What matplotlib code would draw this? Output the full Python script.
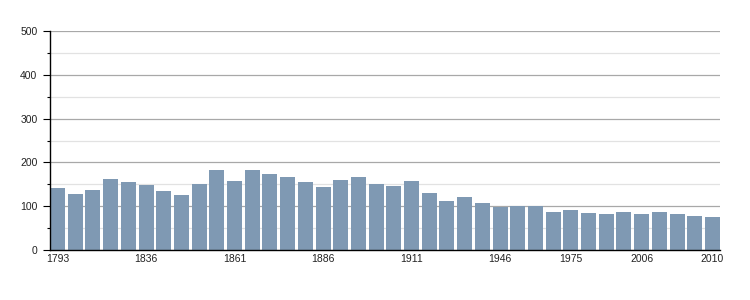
"""Population bar chart (1793-2010)"""
import matplotlib
matplotlib.use('Agg')
import matplotlib.pyplot as plt
from matplotlib.ticker import MultipleLocator

plt.rcParams.update({
    'font.family': ['Liberation Sans', 'DejaVu Sans'],
    'font.size': 7.5,
})

years = [1793, 1800, 1806, 1821, 1831, 1836, 1841, 1846, 1851, 1856,
         1861, 1866, 1872, 1876, 1881, 1886, 1891, 1896, 1901, 1906,
         1911, 1921, 1926, 1931, 1936, 1946, 1954, 1962, 1968, 1975,
         1982, 1990, 1999, 2006, 2007, 2008, 2009, 2010]
population = [141, 128, 137, 162, 155, 149, 135, 125, 151, 182,
              157, 182, 173, 167, 155, 144, 160, 167, 151, 146,
              157, 130, 112, 121, 107, 98, 100, 100, 87, 91,
              85, 82, 87, 82, 87, 82, 78, 75]
labelled_years = [1793, 1836, 1861, 1886, 1911, 1946, 1975, 2006, 2010]

fig = plt.figure(figsize=(7.5, 3), dpi=100)
ax = fig.add_axes([50/750, 50/300, 670/750, 219/300])

x = list(range(len(years)))
ax.bar(x, population, width=0.85, color='#7f99b3', zorder=3)

ax.set_xlim(-0.425, len(years) - 1 + 0.425)
ax.set_ylim(0, 500)
ax.yaxis.set_major_locator(MultipleLocator(100))
ax.yaxis.set_minor_locator(MultipleLocator(50))
ax.grid(axis='y', which='major', color='#a8a8a8', linewidth=0.9, zorder=0)
ax.grid(axis='y', which='minor', color='#e2e2e2', linewidth=0.9, zorder=0)

ticks = [years.index(y) for y in labelled_years]
ax.set_xticks(ticks)
ax.set_xticklabels([str(y) for y in labelled_years])
ax.tick_params(axis='x', length=0, pad=3, labelcolor='#222222')
ax.tick_params(axis='y', which='major', length=5, width=0.8, pad=4, labelcolor='#222222')
ax.tick_params(axis='y', which='minor', length=2.5, width=0.8)

for s in ['top', 'right']:
    ax.spines[s].set_visible(False)
ax.spines['left'].set_linewidth(1.0)
ax.spines['bottom'].set_linewidth(1.0)
ax.spines['left'].set_zorder(4)
ax.spines['bottom'].set_zorder(4)

fig.savefig('out.png', dpi=100)
